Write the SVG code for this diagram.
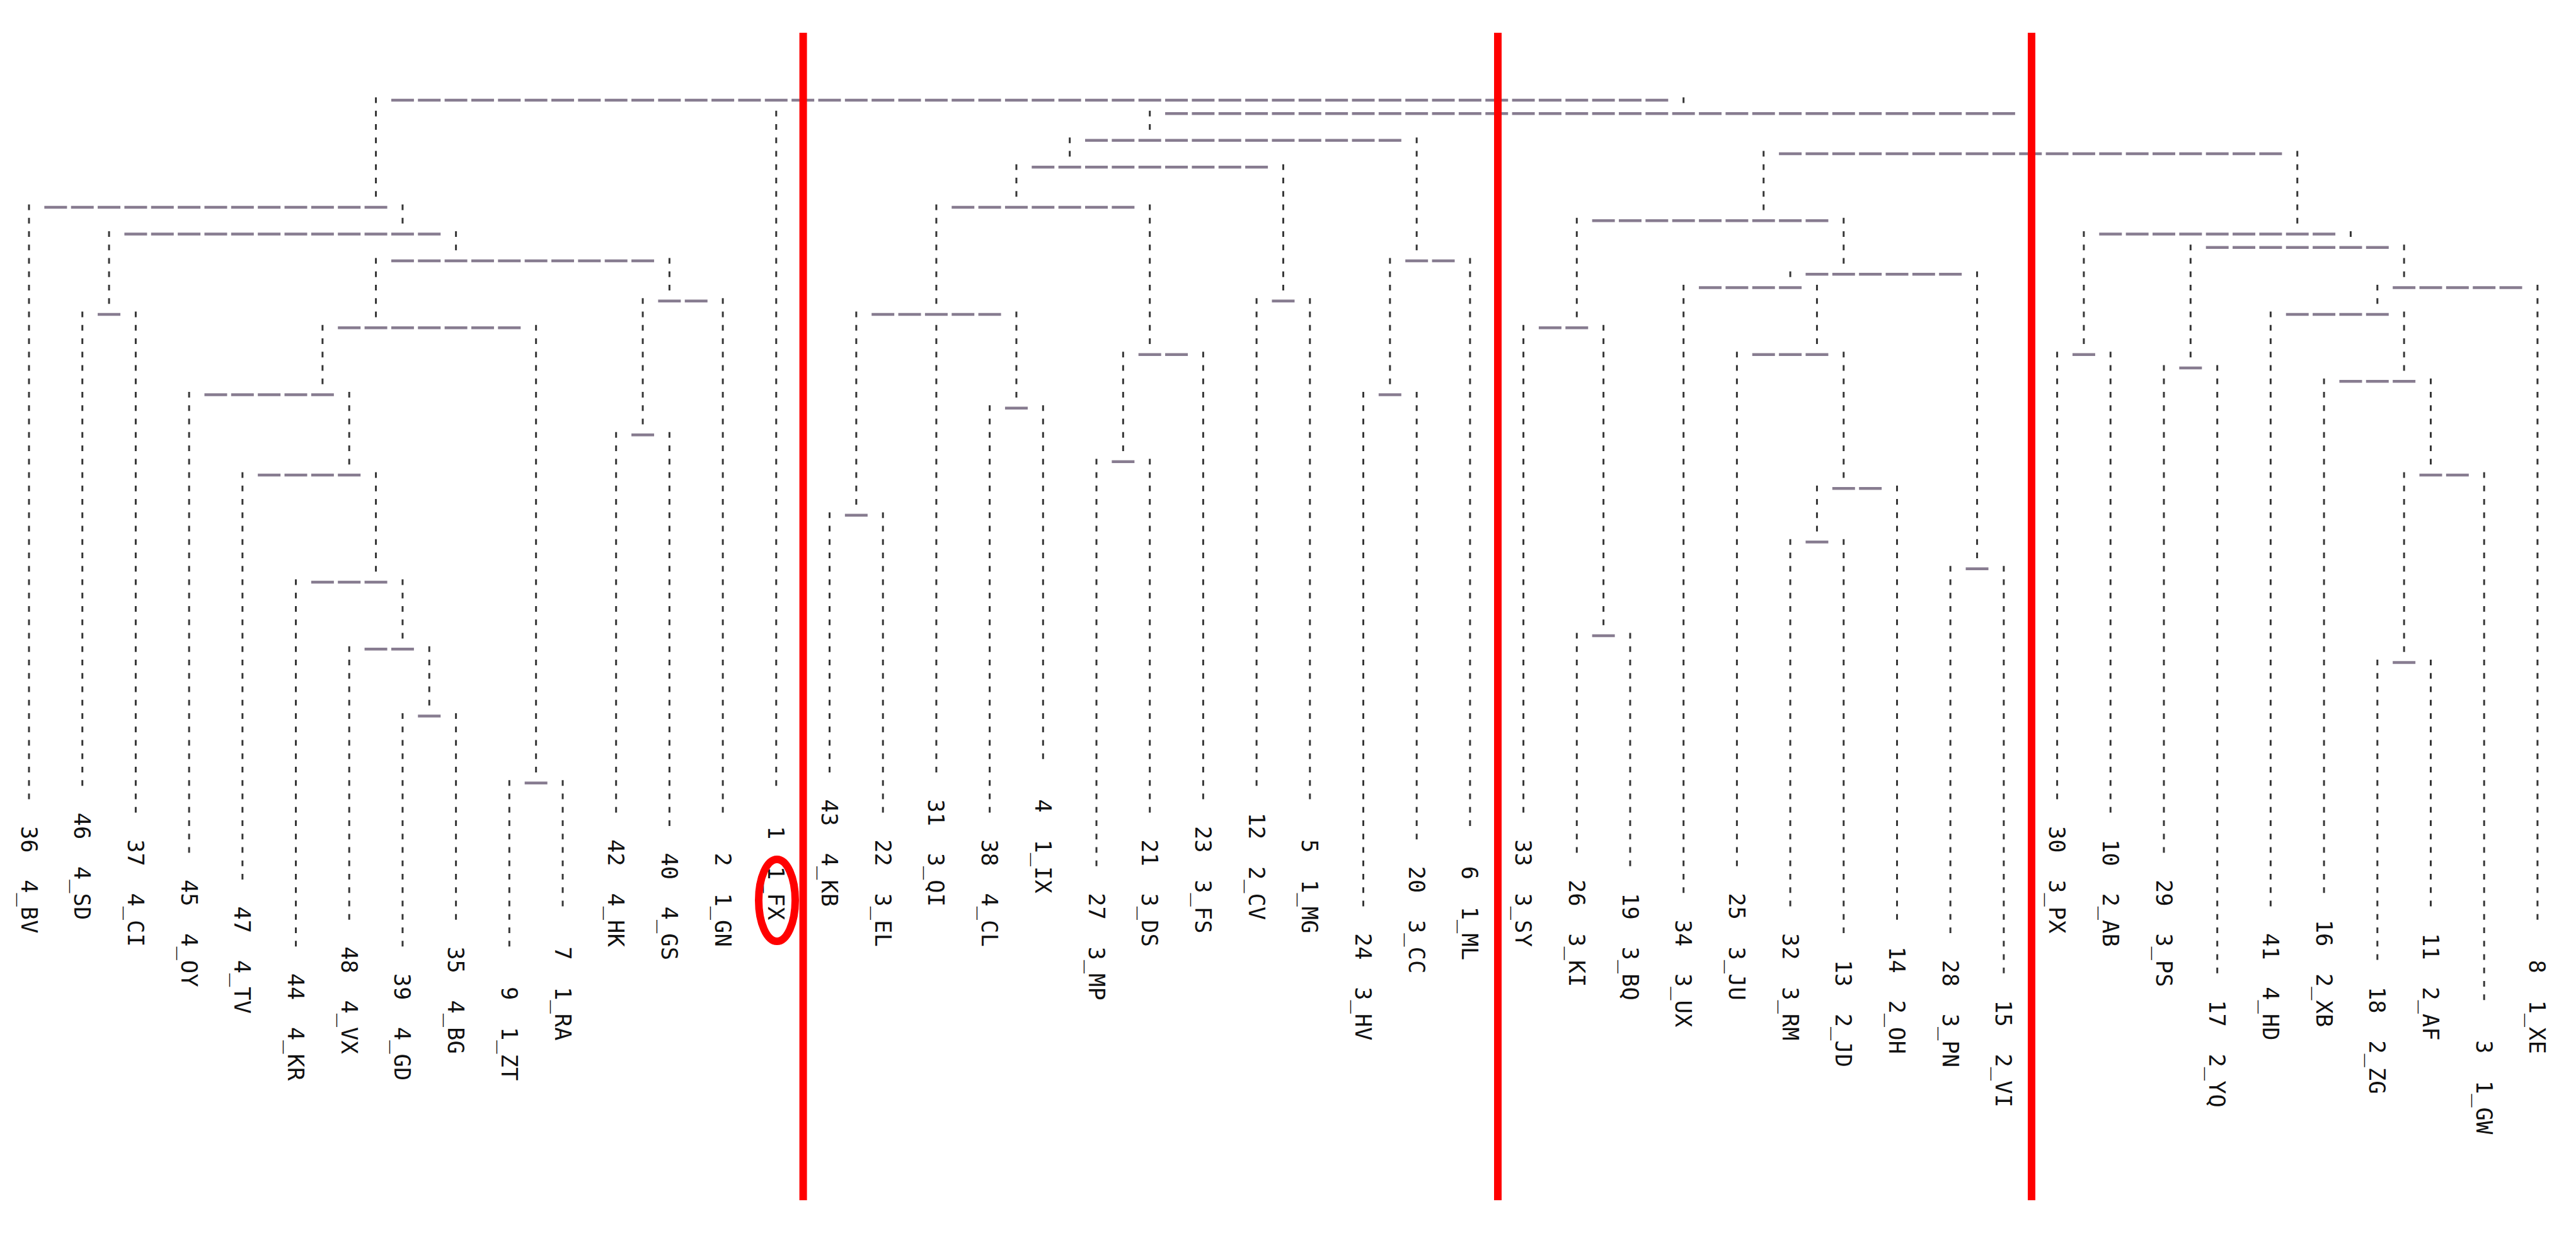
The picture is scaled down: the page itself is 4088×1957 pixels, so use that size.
<svg xmlns="http://www.w3.org/2000/svg" width="4088" height="1957" viewBox="0 0 4088 1957">
<style>
.v{stroke:#363636;stroke-width:3;stroke-dasharray:9 12.25;fill:none}
.h{stroke:#877c90;stroke-width:4.5;stroke-dasharray:36 6.35;fill:none}
.lbl{font-family:"DejaVu Sans Mono","Liberation Mono",monospace;font-size:35.4px;fill:#111;white-space:pre}
.red{stroke:#ff0000;stroke-width:12;fill:none}
</style>
<rect width="4088" height="1957" fill="#ffffff"/>
<g id="connectors">
<line class="h" x1="620.9" y1="159" x2="2647.35" y2="159"/>
<line class="h" x1="1849.05" y1="180.25" x2="3197.9" y2="180.25"/>
<line class="h" x1="1722" y1="222.75" x2="2223.85" y2="222.75"/>
<line class="h" x1="2823.1" y1="244" x2="3621.4" y2="244"/>
<line class="h" x1="1637.3" y1="265.25" x2="2012.1" y2="265.25"/>
<line class="h" x1="70.35" y1="329" x2="614.55" y2="329"/>
<line class="h" x1="1510.25" y1="329" x2="1800.35" y2="329"/>
<line class="h" x1="2526.65" y1="350.25" x2="2901.45" y2="350.25"/>
<line class="h" x1="197.4" y1="371.5" x2="699.25" y2="371.5"/>
<line class="h" x1="3331.3" y1="371.5" x2="3706.1" y2="371.5"/>
<line class="h" x1="3500.7" y1="392.75" x2="3790.8" y2="392.75"/>
<line class="h" x1="620.9" y1="414" x2="1038.05" y2="414"/>
<line class="h" x1="2230.2" y1="414" x2="2308.55" y2="414"/>
<line class="h" x1="2865.45" y1="435.25" x2="3113.2" y2="435.25"/>
<line class="h" x1="2696.05" y1="456.5" x2="2859.1" y2="456.5"/>
<line class="h" x1="3797.15" y1="456.5" x2="4002.55" y2="456.5"/>
<line class="h" x1="1044.4" y1="477.75" x2="1122.75" y2="477.75"/>
<line class="h" x1="2018.45" y1="477.75" x2="2054.45" y2="477.75"/>
<line class="h" x1="155.05" y1="499" x2="191.05" y2="499"/>
<line class="h" x1="1383.2" y1="499" x2="1588.6" y2="499"/>
<line class="h" x1="3627.75" y1="499" x2="3790.8" y2="499"/>
<line class="h" x1="536.2" y1="520.25" x2="826.3" y2="520.25"/>
<line class="h" x1="2441.95" y1="520.25" x2="2520.3" y2="520.25"/>
<line class="h" x1="1806.7" y1="562.75" x2="1885.05" y2="562.75"/>
<line class="h" x1="2780.75" y1="562.75" x2="2901.45" y2="562.75"/>
<line class="h" x1="3288.95" y1="562.75" x2="3324.95" y2="562.75"/>
<line class="h" x1="3458.35" y1="584" x2="3494.35" y2="584"/>
<line class="h" x1="3712.45" y1="605.25" x2="3833.15" y2="605.25"/>
<line class="h" x1="324.45" y1="626.5" x2="529.85" y2="626.5"/>
<line class="h" x1="2187.85" y1="626.5" x2="2223.85" y2="626.5"/>
<line class="h" x1="1594.95" y1="647.75" x2="1630.95" y2="647.75"/>
<line class="h" x1="1002.05" y1="690.25" x2="1038.05" y2="690.25"/>
<line class="h" x1="1764.35" y1="732.75" x2="1800.35" y2="732.75"/>
<line class="h" x1="409.15" y1="754" x2="572.2" y2="754"/>
<line class="h" x1="3839.5" y1="754" x2="3917.85" y2="754"/>
<line class="h" x1="2907.8" y1="775.25" x2="2986.15" y2="775.25"/>
<line class="h" x1="1340.85" y1="817.75" x2="1376.85" y2="817.75"/>
<line class="h" x1="2865.45" y1="860.25" x2="2901.45" y2="860.25"/>
<line class="h" x1="3119.55" y1="902.75" x2="3155.55" y2="902.75"/>
<line class="h" x1="493.85" y1="924" x2="614.55" y2="924"/>
<line class="h" x1="2526.65" y1="1009" x2="2562.65" y2="1009"/>
<line class="h" x1="578.55" y1="1030.25" x2="656.9" y2="1030.25"/>
<line class="h" x1="3797.15" y1="1051.5" x2="3833.15" y2="1051.5"/>
<line class="h" x1="663.25" y1="1136.5" x2="699.25" y2="1136.5"/>
<line class="h" x1="832.65" y1="1242.75" x2="868.65" y2="1242.75"/>
<line class="v" x1="596.55" y1="154.5" x2="596.55" y2="312.25"/>
<line class="v" x1="2671.7" y1="154.5" x2="2671.7" y2="163.5"/>
<line class="v" x1="1824.7" y1="175.75" x2="1824.7" y2="206"/>
<line class="v" x1="3222.25" y1="175.75" x2="3222.25" y2="227.25"/>
<line class="v" x1="1697.65" y1="218.25" x2="1697.65" y2="248.5"/>
<line class="v" x1="2248.2" y1="218.25" x2="2248.2" y2="397.25"/>
<line class="v" x1="2798.75" y1="239.5" x2="2798.75" y2="333.5"/>
<line class="v" x1="3645.75" y1="239.5" x2="3645.75" y2="354.75"/>
<line class="v" x1="1612.95" y1="260.75" x2="1612.95" y2="312.25"/>
<line class="v" x1="2036.45" y1="260.75" x2="2036.45" y2="461"/>
<line class="v" x1="638.9" y1="324.5" x2="638.9" y2="354.75"/>
<line class="v" x1="1485.9" y1="324.5" x2="1485.9" y2="482.25"/>
<line class="v" x1="1824.7" y1="324.5" x2="1824.7" y2="546"/>
<line class="v" x1="2502.3" y1="345.75" x2="2502.3" y2="503.5"/>
<line class="v" x1="2925.8" y1="345.75" x2="2925.8" y2="418.5"/>
<line class="v" x1="173.05" y1="367" x2="173.05" y2="482.25"/>
<line class="v" x1="723.6" y1="367" x2="723.6" y2="397.25"/>
<line class="v" x1="3306.95" y1="367" x2="3306.95" y2="546"/>
<line class="v" x1="3730.45" y1="367" x2="3730.45" y2="376"/>
<line class="v" x1="3476.35" y1="388.25" x2="3476.35" y2="567.25"/>
<line class="v" x1="3815.15" y1="388.25" x2="3815.15" y2="439.75"/>
<line class="v" x1="596.55" y1="409.5" x2="596.55" y2="503.5"/>
<line class="v" x1="1062.4" y1="409.5" x2="1062.4" y2="461"/>
<line class="v" x1="2205.85" y1="409.5" x2="2205.85" y2="609.75"/>
<line class="v" x1="2841.1" y1="430.75" x2="2841.1" y2="439.75"/>
<line class="v" x1="3137.55" y1="430.75" x2="3137.55" y2="886"/>
<line class="v" x1="2883.45" y1="452" x2="2883.45" y2="546"/>
<line class="v" x1="3772.8" y1="452" x2="3772.8" y2="482.25"/>
<line class="v" x1="1020.05" y1="473.25" x2="1020.05" y2="673.5"/>
<line class="v" x1="1358.85" y1="494.5" x2="1358.85" y2="801"/>
<line class="v" x1="1612.95" y1="494.5" x2="1612.95" y2="631"/>
<line class="v" x1="3815.15" y1="494.5" x2="3815.15" y2="588.5"/>
<line class="v" x1="511.85" y1="515.75" x2="511.85" y2="609.75"/>
<line class="v" x1="850.65" y1="515.75" x2="850.65" y2="1226"/>
<line class="v" x1="2544.65" y1="515.75" x2="2544.65" y2="992.25"/>
<line class="v" x1="1782.35" y1="558.25" x2="1782.35" y2="716"/>
<line class="v" x1="2925.8" y1="558.25" x2="2925.8" y2="758.5"/>
<line class="v" x1="3857.5" y1="600.75" x2="3857.5" y2="737.25"/>
<line class="v" x1="554.2" y1="622" x2="554.2" y2="737.25"/>
<line class="v" x1="596.55" y1="749.5" x2="596.55" y2="907.25"/>
<line class="v" x1="3815.15" y1="749.5" x2="3815.15" y2="1034.75"/>
<line class="v" x1="2883.45" y1="770.75" x2="2883.45" y2="843.5"/>
<line class="v" x1="638.9" y1="919.5" x2="638.9" y2="1013.5"/>
<line class="v" x1="681.25" y1="1025.75" x2="681.25" y2="1119.75"/>
<line class="v" x1="46" y1="324.5" x2="46" y2="1268.5"/>
<line class="v" x1="130.7" y1="494.5" x2="130.7" y2="1247.25"/>
<line class="v" x1="215.4" y1="494.5" x2="215.4" y2="1289.75"/>
<line class="v" x1="300.1" y1="622" x2="300.1" y2="1353.5"/>
<line class="v" x1="384.8" y1="749.5" x2="384.8" y2="1396"/>
<line class="v" x1="469.5" y1="919.5" x2="469.5" y2="1502.25"/>
<line class="v" x1="554.2" y1="1025.75" x2="554.2" y2="1459.75"/>
<line class="v" x1="638.9" y1="1132" x2="638.9" y2="1502.25"/>
<line class="v" x1="723.6" y1="1132" x2="723.6" y2="1459.75"/>
<line class="v" x1="808.3" y1="1238.25" x2="808.3" y2="1502.25"/>
<line class="v" x1="893" y1="1238.25" x2="893" y2="1438.5"/>
<line class="v" x1="977.7" y1="685.75" x2="977.7" y2="1289.75"/>
<line class="v" x1="1062.4" y1="685.75" x2="1062.4" y2="1311"/>
<line class="v" x1="1147.1" y1="473.25" x2="1147.1" y2="1289.75"/>
<line class="v" x1="1231.8" y1="175.75" x2="1231.8" y2="1247.25"/>
<line class="v" x1="1316.5" y1="813.25" x2="1316.5" y2="1226"/>
<line class="v" x1="1401.2" y1="813.25" x2="1401.2" y2="1289.75"/>
<line class="v" x1="1485.9" y1="515.75" x2="1485.9" y2="1226"/>
<line class="v" x1="1570.6" y1="643.25" x2="1570.6" y2="1289.75"/>
<line class="v" x1="1655.3" y1="643.25" x2="1655.3" y2="1204.75"/>
<line class="v" x1="1740" y1="728.25" x2="1740" y2="1374.75"/>
<line class="v" x1="1824.7" y1="728.25" x2="1824.7" y2="1289.75"/>
<line class="v" x1="1909.4" y1="558.25" x2="1909.4" y2="1268.5"/>
<line class="v" x1="1994.1" y1="473.25" x2="1994.1" y2="1247.25"/>
<line class="v" x1="2078.8" y1="473.25" x2="2078.8" y2="1268.5"/>
<line class="v" x1="2163.5" y1="622" x2="2163.5" y2="1438.5"/>
<line class="v" x1="2248.2" y1="622" x2="2248.2" y2="1332.25"/>
<line class="v" x1="2332.9" y1="409.5" x2="2332.9" y2="1311"/>
<line class="v" x1="2417.6" y1="515.75" x2="2417.6" y2="1289.75"/>
<line class="v" x1="2502.3" y1="1004.5" x2="2502.3" y2="1353.5"/>
<line class="v" x1="2587" y1="1004.5" x2="2587" y2="1374.75"/>
<line class="v" x1="2671.7" y1="452" x2="2671.7" y2="1417.25"/>
<line class="v" x1="2756.4" y1="558.25" x2="2756.4" y2="1374.75"/>
<line class="v" x1="2841.1" y1="855.75" x2="2841.1" y2="1438.5"/>
<line class="v" x1="2925.8" y1="855.75" x2="2925.8" y2="1481"/>
<line class="v" x1="3010.5" y1="770.75" x2="3010.5" y2="1459.75"/>
<line class="v" x1="3095.2" y1="898.25" x2="3095.2" y2="1481"/>
<line class="v" x1="3179.9" y1="898.25" x2="3179.9" y2="1544.75"/>
<line class="v" x1="3264.6" y1="558.25" x2="3264.6" y2="1268.5"/>
<line class="v" x1="3349.3" y1="558.25" x2="3349.3" y2="1289.75"/>
<line class="v" x1="3434" y1="579.5" x2="3434" y2="1353.5"/>
<line class="v" x1="3518.7" y1="579.5" x2="3518.7" y2="1544.75"/>
<line class="v" x1="3603.4" y1="494.5" x2="3603.4" y2="1438.5"/>
<line class="v" x1="3688.1" y1="600.75" x2="3688.1" y2="1417.25"/>
<line class="v" x1="3772.8" y1="1047" x2="3772.8" y2="1523.5"/>
<line class="v" x1="3857.5" y1="1047" x2="3857.5" y2="1438.5"/>
<line class="v" x1="3942.2" y1="749.5" x2="3942.2" y2="1587.25"/>
<line class="v" x1="4026.9" y1="452" x2="4026.9" y2="1459.75"/>
</g>
<g id="leaves">
<g id="n36"><text class="lbl" xml:space="preserve" transform="translate(33.5,1311) rotate(90)">36  4_BV</text></g>
<g id="n46"><text class="lbl" xml:space="preserve" transform="translate(118.2,1289.75) rotate(90)">46  4_SD</text></g>
<g id="n37"><text class="lbl" xml:space="preserve" transform="translate(202.9,1332.25) rotate(90)">37  4_CI</text></g>
<g id="n45"><text class="lbl" xml:space="preserve" transform="translate(287.6,1396) rotate(90)">45  4_OY</text></g>
<g id="n47"><text class="lbl" xml:space="preserve" transform="translate(372.3,1438.5) rotate(90)">47  4_TV</text></g>
<g id="n44"><text class="lbl" xml:space="preserve" transform="translate(457,1544.75) rotate(90)">44  4_KR</text></g>
<g id="n48"><text class="lbl" xml:space="preserve" transform="translate(541.7,1502.25) rotate(90)">48  4_VX</text></g>
<g id="n39"><text class="lbl" xml:space="preserve" transform="translate(626.4,1544.75) rotate(90)">39  4_GD</text></g>
<g id="n35"><text class="lbl" xml:space="preserve" transform="translate(711.1,1502.25) rotate(90)">35  4_BG</text></g>
<g id="n9"><text class="lbl" xml:space="preserve" transform="translate(795.8,1544.75) rotate(90)"> 9  1_ZT</text></g>
<g id="n7"><text class="lbl" xml:space="preserve" transform="translate(880.5,1481) rotate(90)"> 7  1_RA</text></g>
<g id="n42"><text class="lbl" xml:space="preserve" transform="translate(965.2,1332.25) rotate(90)">42  4_HK</text></g>
<g id="n40"><text class="lbl" xml:space="preserve" transform="translate(1049.9,1353.5) rotate(90)">40  4_GS</text></g>
<g id="n2"><text class="lbl" xml:space="preserve" transform="translate(1134.6,1332.25) rotate(90)"> 2  1_GN</text></g>
<g id="n1"><text class="lbl" xml:space="preserve" transform="translate(1219.3,1289.75) rotate(90)"> 1  1_FX</text></g>
<g id="n43"><text class="lbl" xml:space="preserve" transform="translate(1304,1268.5) rotate(90)">43  4_KB</text></g>
<g id="n22"><text class="lbl" xml:space="preserve" transform="translate(1388.7,1332.25) rotate(90)">22  3_EL</text></g>
<g id="n31"><text class="lbl" xml:space="preserve" transform="translate(1473.4,1268.5) rotate(90)">31  3_QI</text></g>
<g id="n38"><text class="lbl" xml:space="preserve" transform="translate(1558.1,1332.25) rotate(90)">38  4_CL</text></g>
<g id="n4"><text class="lbl" xml:space="preserve" transform="translate(1642.8,1247.25) rotate(90)"> 4  1_IX</text></g>
<g id="n27"><text class="lbl" xml:space="preserve" transform="translate(1727.5,1417.25) rotate(90)">27  3_MP</text></g>
<g id="n21"><text class="lbl" xml:space="preserve" transform="translate(1812.2,1332.25) rotate(90)">21  3_DS</text></g>
<g id="n23"><text class="lbl" xml:space="preserve" transform="translate(1896.9,1311) rotate(90)">23  3_FS</text></g>
<g id="n12"><text class="lbl" xml:space="preserve" transform="translate(1981.6,1289.75) rotate(90)">12  2_CV</text></g>
<g id="n5"><text class="lbl" xml:space="preserve" transform="translate(2066.3,1311) rotate(90)"> 5  1_MG</text></g>
<g id="n24"><text class="lbl" xml:space="preserve" transform="translate(2151,1481) rotate(90)">24  3_HV</text></g>
<g id="n20"><text class="lbl" xml:space="preserve" transform="translate(2235.7,1374.75) rotate(90)">20  3_CC</text></g>
<g id="n6"><text class="lbl" xml:space="preserve" transform="translate(2320.4,1353.5) rotate(90)"> 6  1_ML</text></g>
<g id="n33"><text class="lbl" xml:space="preserve" transform="translate(2405.1,1332.25) rotate(90)">33  3_SY</text></g>
<g id="n26"><text class="lbl" xml:space="preserve" transform="translate(2489.8,1396) rotate(90)">26  3_KI</text></g>
<g id="n19"><text class="lbl" xml:space="preserve" transform="translate(2574.5,1417.25) rotate(90)">19  3_BQ</text></g>
<g id="n34"><text class="lbl" xml:space="preserve" transform="translate(2659.2,1459.75) rotate(90)">34  3_UX</text></g>
<g id="n25"><text class="lbl" xml:space="preserve" transform="translate(2743.9,1417.25) rotate(90)">25  3_JU</text></g>
<g id="n32"><text class="lbl" xml:space="preserve" transform="translate(2828.6,1481) rotate(90)">32  3_RM</text></g>
<g id="n13"><text class="lbl" xml:space="preserve" transform="translate(2913.3,1523.5) rotate(90)">13  2_JD</text></g>
<g id="n14"><text class="lbl" xml:space="preserve" transform="translate(2998,1502.25) rotate(90)">14  2_OH</text></g>
<g id="n28"><text class="lbl" xml:space="preserve" transform="translate(3082.7,1523.5) rotate(90)">28  3_PN</text></g>
<g id="n15"><text class="lbl" xml:space="preserve" transform="translate(3167.4,1587.25) rotate(90)">15  2_VI</text></g>
<g id="n30"><text class="lbl" xml:space="preserve" transform="translate(3252.1,1311) rotate(90)">30  3_PX</text></g>
<g id="n10"><text class="lbl" xml:space="preserve" transform="translate(3336.8,1332.25) rotate(90)">10  2_AB</text></g>
<g id="n29"><text class="lbl" xml:space="preserve" transform="translate(3421.5,1396) rotate(90)">29  3_PS</text></g>
<g id="n17"><text class="lbl" xml:space="preserve" transform="translate(3506.2,1587.25) rotate(90)">17  2_YQ</text></g>
<g id="n41"><text class="lbl" xml:space="preserve" transform="translate(3590.9,1481) rotate(90)">41  4_HD</text></g>
<g id="n16"><text class="lbl" xml:space="preserve" transform="translate(3675.6,1459.75) rotate(90)">16  2_XB</text></g>
<g id="n18"><text class="lbl" xml:space="preserve" transform="translate(3760.3,1566) rotate(90)">18  2_ZG</text></g>
<g id="n11"><text class="lbl" xml:space="preserve" transform="translate(3845,1481) rotate(90)">11  2_AF</text></g>
<g id="n3"><text class="lbl" xml:space="preserve" transform="translate(3929.7,1629.75) rotate(90)"> 3  1_GW</text></g>
<g id="n8"><text class="lbl" xml:space="preserve" transform="translate(4014.4,1502.25) rotate(90)"> 8  1_XE</text></g>
</g>
<g id="annotations">
<line class="red" x1="1274.6" y1="52" x2="1274.6" y2="1905"/>
<line class="red" x1="2377" y1="52" x2="2377" y2="1905"/>
<line class="red" x1="3224" y1="52" x2="3224" y2="1905"/>
<ellipse class="red" cx="1233" cy="1429" rx="29" ry="65" stroke-width="6"/>
</g>
</svg>
